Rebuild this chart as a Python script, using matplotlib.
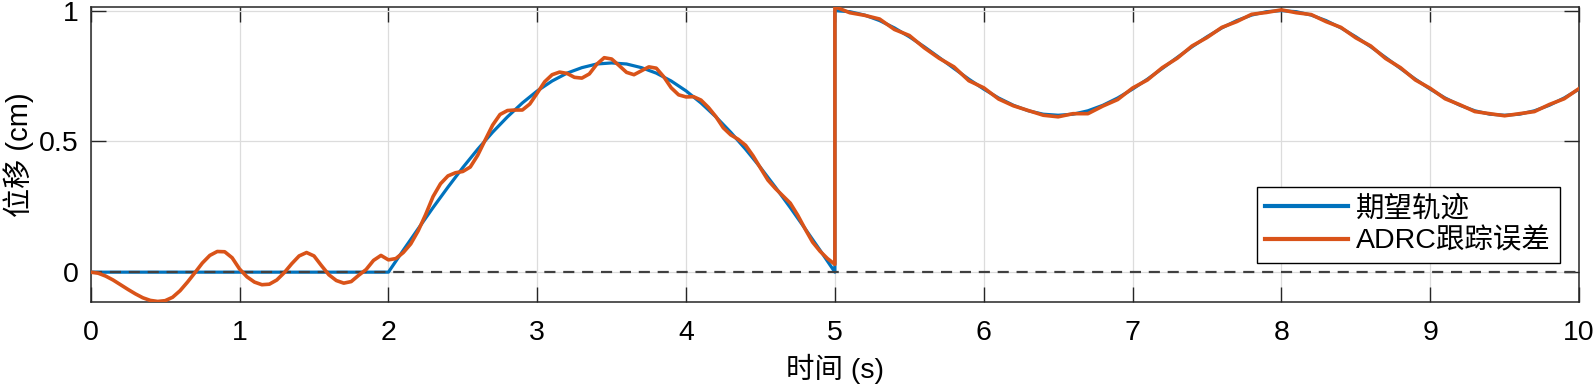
import numpy as np
import matplotlib
matplotlib.use('Agg')
import matplotlib.pyplot as plt

plt.rcParams['font.family'] = ['Liberation Sans', 'Noto Sans CJK SC', 'DejaVu Sans']

# desired trajectory (blue), sampled every 0.1 s
t_ref_a = np.linspace(0, 5, 51)
y_ref_a = [0, 0, 0, 0, 0, 0, 0, 0, 0, 0,
           0, 0, 0, 0, 0, 0, 0, 0, 0, 0,
           0, 0.084, 0.166, 0.247, 0.325, 0.400, 0.470, 0.535, 0.594, 0.647,
           0.693, 0.731, 0.761, 0.782, 0.796, 0.800, 0.796, 0.782, 0.761, 0.731,
           0.693, 0.647, 0.594, 0.535, 0.470, 0.400, 0.325, 0.247, 0.166, 0.084,
           0]
t_ref_b = np.linspace(5, 10, 51)
y_ref_b = [1.000, 0.996, 0.983, 0.962, 0.934, 0.900, 0.862, 0.821, 0.779, 0.738,
           0.700, 0.666, 0.638, 0.617, 0.604, 0.600, 0.604, 0.617, 0.638, 0.666,
           0.700, 0.738, 0.779, 0.821, 0.862, 0.900, 0.934, 0.962, 0.983, 0.996,
           1.000, 0.996, 0.983, 0.962, 0.934, 0.900, 0.862, 0.821, 0.779, 0.738,
           0.700, 0.666, 0.638, 0.617, 0.604, 0.600, 0.604, 0.617, 0.638, 0.666,
           0.700]

# ADRC response (orange): 0-5 s every 0.05 s, 5-10 s every 0.1 s
t_adrc_a = np.linspace(0, 5, 101)
y_adrc_a = [0.000, -0.004, -0.015, -0.030, -0.048, -0.066, -0.083, -0.098, -0.108, -0.112,
            -0.109, -0.096, -0.071, -0.038, -0.002, 0.035, 0.064, 0.079, 0.078, 0.055,
            0.012, -0.018, -0.038, -0.048, -0.046, -0.030, -0.002, 0.032, 0.062, 0.075,
            0.062, 0.025, -0.010, -0.032, -0.042, -0.036, -0.012, 0.010, 0.045, 0.064,
            0.047, 0.052, 0.075, 0.108, 0.158, 0.220, 0.289, 0.338, 0.368, 0.380,
            0.385, 0.402, 0.447, 0.505, 0.562, 0.603, 0.618, 0.620, 0.620, 0.643,
            0.685, 0.728, 0.755, 0.765, 0.760, 0.745, 0.742, 0.758, 0.795, 0.820,
            0.815, 0.790, 0.764, 0.755, 0.770, 0.785, 0.780, 0.747, 0.705, 0.678,
            0.670, 0.671, 0.658, 0.630, 0.595, 0.552, 0.525, 0.508, 0.485, 0.445,
            0.398, 0.352, 0.320, 0.292, 0.264, 0.218, 0.165, 0.115, 0.080, 0.052,
            0.030]
t_adrc_b = np.linspace(5, 10, 51)
y_adrc_b = [1.015, 0.992, 0.982, 0.968, 0.928, 0.905, 0.858, 0.818, 0.785, 0.732,
            0.705, 0.662, 0.636, 0.618, 0.600, 0.594, 0.606, 0.606, 0.635, 0.660,
            0.704, 0.735, 0.782, 0.818, 0.865, 0.897, 0.936, 0.958, 0.986, 0.993,
            1.003, 0.992, 0.985, 0.958, 0.936, 0.896, 0.865, 0.817, 0.782, 0.735,
            0.703, 0.663, 0.640, 0.614, 0.606, 0.598, 0.606, 0.614, 0.641, 0.663,
            0.702]

t_ref = np.concatenate([t_ref_a, t_ref_b])
y_ref = np.concatenate([y_ref_a, y_ref_b])
t_adrc = np.concatenate([t_adrc_a, t_adrc_b])
y_adrc = np.concatenate([y_adrc_a, y_adrc_b])

fig = plt.figure(figsize=(15.95, 3.88), dpi=100)
ax = fig.add_axes([0.0569, 0.2224, 0.9331, 0.7603])

ax.plot(t_ref, y_ref, color='#0072BD', lw=2.3, label='期望轨迹', zorder=3)
ax.axhline(0, color='#404040', lw=1.6, ls=(0, (5, 3.5)), zorder=3.5)
ax.plot(t_adrc, y_adrc, color='#D95319', lw=2.6, label='ADRC跟踪误差', zorder=4)

ax.set_xlim(0, 10)
ax.set_ylim(-0.113, 1.015)
ax.set_xticks(range(0, 11))
ax.set_yticks([0, 0.5, 1])
ax.set_yticklabels(['0', '0.5', '1'])

ax.grid(True, color='#dcdcdc', lw=0.9)
ax.set_axisbelow(True)
ax.tick_params(direction='in', length=11, width=1, labelsize=20.5, colors='#262626',
               top=True, right=True, pad=9)
ax.tick_params(axis='x', pad=13)
ax.tick_params(labelcolor='black')
for s in ax.spines.values():
    s.set_color('#262626')
    s.set_linewidth(1.1)

ax.set_xlabel('时间 (s)', fontsize=20.5, va='bottom')
ax.xaxis.set_label_coords(0.5, -0.28)
ax.set_ylabel('位移 (cm)', fontsize=21)
ax.yaxis.set_label_coords(-0.038, 0.5)

leg = ax.legend(loc='lower right', bbox_to_anchor=(0.987, 0.131), fontsize=20.5,
                frameon=True, fancybox=False, framealpha=1, edgecolor='black',
                handlelength=2.9, handletextpad=0.3, borderpad=0.3,
                labelspacing=0.2, borderaxespad=0)
leg.get_frame().set_linewidth(1.0)
for line in leg.get_lines():
    line.set_linewidth(3)

fig.savefig('out.png', dpi=100)
